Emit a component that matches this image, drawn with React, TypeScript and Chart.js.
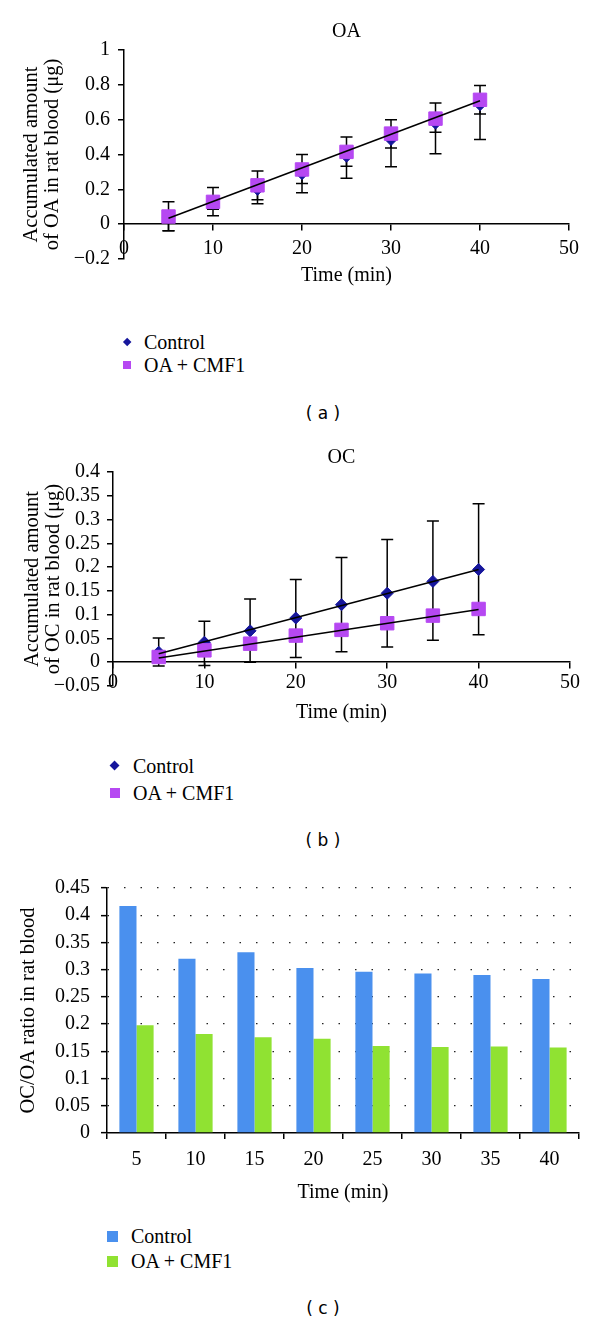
import React, { useEffect, useRef } from 'react';
import { Chart, registerables } from 'chart.js';

Chart.register(...registerables);

const SERIF = '"Liberation Serif", "Times New Roman", serif';
Chart.defaults.font.family = SERIF;
Chart.defaults.font.size = 20;
Chart.defaults.color = '#000';

const CTRL_LABEL = 'Control';
const CMF_LABEL = 'OA + CMF1';
const NAVY = '#16169c';
const PURPLE = '#b648f2';
const BLUE = '#4a90ee';
const GREEN = '#90e232';

// ---------- Panel (a): OA ----------
const timeA = [5, 10, 15, 20, 25, 30, 35, 40];
const oaControl = [0.04, 0.12, 0.2, 0.29, 0.39, 0.486, 0.58, 0.686];
const oaControlLow = [-0.038, 0.086, 0.117, 0.181, 0.263, 0.33, 0.404, 0.486];
const oaCmf = [0.044, 0.128, 0.223, 0.314, 0.415, 0.52, 0.606, 0.714];
const oaCmfLow = [-0.038, 0.048, 0.14, 0.234, 0.333, 0.438, 0.528, 0.632];
const oaCmfHigh = [0.128, 0.211, 0.305, 0.4, 0.5, 0.6, 0.695, 0.796];
const oaTrendX = [5, 40];
const oaTrendY = [0.034, 0.709];

// ---------- Panel (b): OC ----------
const timeB = [5, 10, 15, 20, 25, 30, 35, 40];
const ocControl = [0.021, 0.042, 0.066, 0.093, 0.121, 0.145, 0.17, 0.195];
const ocControlLow = [-0.008, -0.007, 0.0, 0.01, 0.022, 0.032, 0.046, 0.058];
const ocControlHigh = [0.051, 0.086, 0.133, 0.174, 0.22, 0.258, 0.297, 0.333];
const ocCmf = [0.011, 0.025, 0.039, 0.056, 0.068, 0.082, 0.098, 0.112];
const ocTrendX = [5, 40];
const ocTrendCtrlY = [0.018, 0.195];
const ocTrendCmfY = [0.009, 0.111];

// ---------- Panel (c): OC/OA ratio ----------
const timeLabels = ['5', '10', '15', '20', '25', '30', '35', '40'];
const ratioControl = [0.417, 0.32, 0.332, 0.303, 0.296, 0.293, 0.29, 0.283];
const ratioCmf = [0.198, 0.182, 0.176, 0.173, 0.16, 0.158, 0.159, 0.157];

const pts = (xs: number[], ys: number[]) => xs.map((x, i) => ({ x, y: ys[i] }));
const fmt = (v: number) => {
  const r = Math.round(v * 1000) / 1000;
  return r < 0 ? '\u2212' + String(Math.abs(r)) : String(r);
};

const errorBarPlugin = {
  id: 'errorBars',
  beforeDatasetsDraw(chart: any) {
    const { ctx, scales } = chart;
    const x = scales.x;
    const y = scales.y;
    ctx.save();
    ctx.strokeStyle = '#000';
    ctx.lineWidth = 1.5;
    const cap = 6;
    chart.data.datasets.forEach((ds: any) => {
      if (!ds.errLow) return;
      ds.data.forEach((p: any, i: number) => {
        const px = x.getPixelForValue(p.x);
        const lo = ds.errLow[i];
        const hi = ds.errHigh ? ds.errHigh[i] : p.y;
        const yl = y.getPixelForValue(lo);
        const yh = y.getPixelForValue(hi);
        ctx.beginPath();
        ctx.moveTo(px, yl);
        ctx.lineTo(px, yh);
        ctx.moveTo(px - cap, yl);
        ctx.lineTo(px + cap, yl);
        if (ds.errHigh) {
          ctx.moveTo(px - cap, yh);
          ctx.lineTo(px + cap, yh);
        }
        ctx.stroke();
      });
    });
    ctx.restore();
  },
};

const yTitleFont = { size: 20.5, lineHeight: 1.03 };

function configA(): any {
  return {
    type: 'scatter',
    data: {
      datasets: [
        {
          label: 'trend',
          data: pts(oaTrendX, oaTrendY),
          showLine: true,
          borderColor: '#000',
          borderWidth: 1.5,
          pointRadius: 0,
          order: 0,
        },
        {
          label: CMF_LABEL,
          data: pts(timeA, oaCmf),
          pointStyle: 'rect',
          pointRadius: 9.5,
          backgroundColor: PURPLE,
          borderColor: PURPLE,
          borderWidth: 1,
          order: 1,
          errLow: oaCmfLow,
          errHigh: oaCmfHigh,
        },
        {
          label: CTRL_LABEL,
          data: pts(timeA, oaControl),
          pointStyle: 'rectRot',
          pointRadius: 6,
          backgroundColor: NAVY,
          borderColor: NAVY,
          borderWidth: 1,
          order: 2,
          errLow: oaControlLow,
        },
      ],
    },
    options: {
      animation: false,
      responsive: false,
      events: [],
      layout: { padding: { left: 0, right: 31, top: 0, bottom: 41 } },
      plugins: {
        legend: { display: false },
        tooltip: { enabled: false },
        title: {
          display: true,
          text: 'OA',
          fullSize: false,
          color: '#000',
          font: { size: 20, weight: 'normal', lineHeight: 1.2 },
          padding: { top: 20, bottom: 6 },
        },
      },
      scales: {
        x: {
          type: 'linear',
          axis: 'x',
          position: { y: 0 },
          min: 0,
          max: 50,
          ticks: { stepSize: 10, padding: 7, autoSkip: false, color: '#000', callback: (v: any) => fmt(Number(v)) },
          grid: { drawOnChartArea: false, tickLength: 6, color: '#000', lineWidth: 1.5 },
          border: { color: '#000', width: 1.5 },
          title: { display: true, text: 'Time (min)', color: '#000', font: { size: 20, lineHeight: 1.2 }, padding: { top: -4, bottom: 0 } },
        },
        y: {
          type: 'linear',
          min: -0.2,
          max: 1,
          afterFit: (s: any) => { s.width = 124; },
          ticks: { stepSize: 0.2, padding: 8, autoSkip: false, color: '#000', callback: (v: any) => fmt(Number(v)) },
          grid: { drawOnChartArea: false, tickLength: 6, color: '#000', lineWidth: 1.5 },
          border: { color: '#000', width: 1.5 },
          title: {
            display: true,
            text: ['Accumulated amount', 'of OA in rat blood (\u03bcg)'],
            color: '#000',
            font: yTitleFont,
            padding: { top: 21.4, bottom: 0 },
          },
        },
      },
    },
    plugins: [errorBarPlugin],
  };
}

function configB(): any {
  return {
    type: 'scatter',
    data: {
      datasets: [
        {
          label: 'trend control',
          data: pts(ocTrendX, ocTrendCtrlY),
          showLine: true,
          borderColor: '#000',
          borderWidth: 1.5,
          pointRadius: 0,
          order: 0,
        },
        {
          label: 'trend cmf',
          data: pts(ocTrendX, ocTrendCmfY),
          showLine: true,
          borderColor: '#000',
          borderWidth: 1.5,
          pointRadius: 0,
          order: 0,
        },
        {
          label: CMF_LABEL,
          data: pts(timeB, ocCmf),
          pointStyle: 'rect',
          pointRadius: 9.5,
          backgroundColor: PURPLE,
          borderColor: PURPLE,
          borderWidth: 1,
          order: 1,
        },
        {
          label: CTRL_LABEL,
          data: pts(timeB, ocControl),
          pointStyle: 'rectRot',
          pointRadius: 6,
          backgroundColor: NAVY,
          borderColor: NAVY,
          borderWidth: 1,
          order: 2,
          errLow: ocControlLow,
          errHigh: ocControlHigh,
        },
      ],
    },
    options: {
      animation: false,
      responsive: false,
      events: [],
      layout: { padding: { left: 0, right: 30, top: 0, bottom: 49 } },
      plugins: {
        legend: { display: false },
        tooltip: { enabled: false },
        title: {
          display: true,
          text: 'OC',
          fullSize: false,
          color: '#000',
          font: { size: 20, weight: 'normal', lineHeight: 1.2 },
          padding: { top: 46, bottom: 2 },
        },
      },
      scales: {
        x: {
          type: 'linear',
          axis: 'x',
          position: { y: 0 },
          min: 0,
          max: 50,
          ticks: { stepSize: 10, padding: 3, autoSkip: false, color: '#000', callback: (v: any) => fmt(Number(v)) },
          grid: { drawOnChartArea: false, tickLength: 6, color: '#000', lineWidth: 1.5 },
          border: { color: '#000', width: 1.5 },
          title: { display: true, text: 'Time (min)', color: '#000', font: { size: 20, lineHeight: 1.2 }, padding: { top: 3, bottom: 0 } },
        },
        y: {
          type: 'linear',
          min: -0.05,
          max: 0.4,
          afterFit: (s: any) => { s.width = 113; },
          ticks: { stepSize: 0.05, padding: 7, autoSkip: false, color: '#000', callback: (v: any) => fmt(Number(v)) },
          grid: { drawOnChartArea: false, tickLength: 6, color: '#000', lineWidth: 1.5 },
          border: { color: '#000', width: 1.5 },
          title: {
            display: true,
            text: ['Accumulated amount', 'of OC in rat blood (\u03bcg)'],
            color: '#000',
            font: yTitleFont,
            padding: { top: 22.4, bottom: 0 },
          },
        },
      },
    },
    plugins: [errorBarPlugin],
  };
}

function configC(): any {
  return {
    type: 'bar',
    data: {
      labels: timeLabels,
      datasets: [
        { label: CTRL_LABEL, data: ratioControl, backgroundColor: BLUE, borderWidth: 0 },
        { label: CMF_LABEL, data: ratioCmf, backgroundColor: GREEN, borderWidth: 0 },
      ],
    },
    options: {
      animation: false,
      responsive: false,
      events: [],
      categoryPercentage: 0.58,
      barPercentage: 1.0,
      layout: { padding: { left: 0, right: 21, top: 48, bottom: 5 } },
      plugins: {
        legend: { display: false },
        tooltip: { enabled: false },
      },
      scales: {
        x: {
          type: 'category',
          offset: true,
          ticks: { padding: 9, autoSkip: false, color: '#000' },
          grid: { offset: true, drawOnChartArea: false, tickLength: 6, color: '#000', lineWidth: 1.5 },
          border: { color: '#000', width: 1.5 },
          title: { display: true, text: 'Time (min)', color: '#000', font: { size: 20, lineHeight: 1.2 }, padding: { top: 0, bottom: 0 } },
        },
        y: {
          type: 'linear',
          min: 0,
          max: 0.45,
          afterFit: (s: any) => { s.width = 107; },
          ticks: { stepSize: 0.05, padding: 11, autoSkip: false, color: '#000', callback: (v: any) => fmt(Number(v)) },
          grid: {
            drawOnChartArea: true,
            tickLength: 6,
            lineWidth: 1.3,
            tickColor: '#000',
            tickWidth: 1.5,
            color: (c: any) => (c.tick && Math.abs(c.tick.value) < 1e-9 ? 'rgba(0,0,0,0)' : '#222'),
          },
          border: { color: '#000', width: 1.5, dash: [1.5, 15] },
          title: {
            display: true,
            text: 'OC/OA ratio in rat blood',
            color: '#000',
            font: { size: 20.5, lineHeight: 1.2 },
            padding: { top: 16, bottom: 0 },
          },
        },
      },
    },
  };
}

function ChartPanel({ top, height, build }: { top: number; height: number; build: () => any }) {
  const ref = useRef<HTMLCanvasElement>(null);
  useEffect(() => {
    const chart = new Chart(ref.current as HTMLCanvasElement, build());
    return () => chart.destroy();
  }, []);
  return (
    <canvas
      ref={ref}
      width={600}
      height={height}
      style={{ position: 'absolute', left: 0, top, width: 600, height }}
    />
  );
}

type LegendItem = { label: string; color: string; shape: 'diamond' | 'square'; cy: number; size: number };

function Legend({ items, cx, textLeft }: { items: LegendItem[]; cx: number; textLeft: number }) {
  return (
    <>
      {items.map((it, i) => {
        const side = it.shape === 'diamond' ? it.size / Math.SQRT2 : it.size;
        return (
          <React.Fragment key={i}>
            <div
              style={{
                position: 'absolute',
                left: cx - side / 2,
                top: it.cy - side / 2,
                width: side,
                height: side,
                background: it.color,
                transform: it.shape === 'diamond' ? 'rotate(45deg)' : undefined,
              }}
            />
            <div
              style={{
                position: 'absolute',
                left: textLeft,
                top: it.cy - 12,
                height: 24,
                lineHeight: '24px',
                fontFamily: SERIF,
                fontSize: 20,
                color: '#000',
                whiteSpace: 'nowrap',
              }}
            >
              {it.label}
            </div>
          </React.Fragment>
        );
      })}
    </>
  );
}

function Caption({ text, cy }: { text: string; cy: number }) {
  return (
    <div
      style={{
        position: 'absolute',
        left: 223,
        width: 200,
        top: cy - 12,
        height: 24,
        lineHeight: '24px',
        textAlign: 'center',
        fontFamily: '"DejaVu Sans", sans-serif',
        fontSize: 17,
        color: '#000',
        whiteSpace: 'pre',
      }}
    >
      {text}
    </div>
  );
}

export default function App() {
  return (
    <div style={{ position: 'absolute', left: 0, top: 0, width: 600, height: 1324, background: '#fff', overflow: 'hidden' }}>
      <ChartPanel top={0} height={300} build={configA} />
      <Legend
        cx={127}
        textLeft={144}
        items={[
          { label: CTRL_LABEL, color: NAVY, shape: 'diamond', cy: 342, size: 9 },
          { label: CMF_LABEL, color: PURPLE, shape: 'square', cy: 365, size: 8 },
        ]}
      />
      <Caption text="( a )" cy={413} />

      <ChartPanel top={400} height={335} build={configB} />
      <Legend
        cx={115}
        textLeft={133}
        items={[
          { label: CTRL_LABEL, color: NAVY, shape: 'diamond', cy: 766, size: 10 },
          { label: CMF_LABEL, color: PURPLE, shape: 'square', cy: 793, size: 9.5 },
        ]}
      />
      <Caption text="( b )" cy={840} />

      <ChartPanel top={840} height={370} build={configC} />
      <Legend
        cx={112.5}
        textLeft={131}
        items={[
          { label: CTRL_LABEL, color: BLUE, shape: 'square', cy: 1236, size: 11 },
          { label: CMF_LABEL, color: GREEN, shape: 'square', cy: 1261, size: 11 },
        ]}
      />
      <Caption text="( c )" cy={1308} />
    </div>
  );
}
